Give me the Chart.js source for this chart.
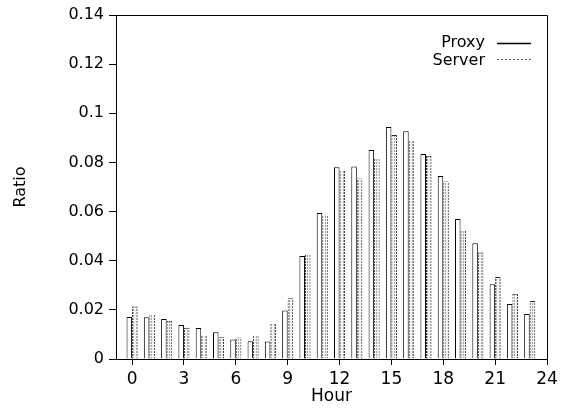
<!DOCTYPE html>
<html><head><meta charset="utf-8">
<script src="https://cdn.jsdelivr.net/npm/chart.js@4/dist/chart.umd.min.js"></script>
<style>html,body{margin:0;padding:0;background:#fff}#wrap{width:566px;height:409px}</style>
</head><body><div id="wrap"><canvas id="c" width="566" height="409"></canvas></div>
<script>
const hours = [0,1,2,3,4,5,6,7,8,9,10,11,12,13,14,15,16,17,18,19,20,21,22,23];
const proxyRatio = [0.0171,0.0170,0.0163,0.0138,0.0126,0.0109,0.0079,0.0072,0.0071,0.0197,0.0419,0.0594,0.0780,0.0783,0.0851,0.0944,0.0927,0.0834,0.0745,0.0570,0.0471,0.0304,0.0224,0.0183];
const serverRatio = [0.0214,0.0183,0.0156,0.0127,0.0098,0.0089,0.0088,0.0098,0.0145,0.0247,0.0426,0.0587,0.0769,0.0735,0.0817,0.0912,0.0891,0.0827,0.0722,0.0524,0.0433,0.0334,0.0266,0.0236];
const xTickLabels = [0,3,6,9,12,15,18,21,24];
const yTickLabels = [0,0.02,0.04,0.06,0.08,0.1,0.12,0.14];
const seriesNames = ['Proxy','Server'];
const xTitle = 'Hour';
const yTitle = 'Ratio';

const FONT = '"DejaVu Sans", "Liberation Sans", Arial, sans-serif';

function makePattern(w, h, draw) {
  const cv = document.createElement('canvas');
  cv.width = w; cv.height = h;
  const g = cv.getContext('2d');
  draw(g);
  return g.createPattern(cv, 'repeat');
}
const serverBorder = makePattern(1, 3, g => {
  g.fillStyle = '#fff'; g.fillRect(0,0,1,3);
  g.fillStyle = '#2a2a2a'; g.fillRect(0,0,1,2);
});
const serverFill = makePattern(3, 3, g => {
  g.fillStyle = '#f2f2f2'; g.fillRect(0,0,3,3);
  g.fillStyle = '#a8a8a8'; g.fillRect(1,0,1,2);
});

const boxPlugin = {
  id: 'box',
  afterDraw(chart) {
    const {ctx, chartArea: a} = chart;
    ctx.save();
    ctx.strokeStyle = '#000';
    ctx.lineWidth = 1;
    ctx.beginPath();
    ctx.moveTo(a.left, a.top + 0.5);
    ctx.lineTo(a.right + 0.5, a.top + 0.5);
    ctx.lineTo(a.right + 0.5, a.bottom);
    ctx.stroke();
    // legend
    ctx.font = '16px ' + FONT;
    ctx.fillStyle = '#000';
    ctx.textAlign = 'right';
    ctx.textBaseline = 'middle';
    const textRight = a.right - 62;
    const lineL = a.right - 50, lineR = a.right - 16;
    chart.data.datasets.forEach((ds, i) => {
      const y = a.top + 28 + i * 18;
      ctx.fillText(ds.label, textRight, y);
      ctx.beginPath();
      if (i === 0) { ctx.setLineDash([]); ctx.strokeStyle = '#000'; ctx.lineWidth = 1.5; }
      else { ctx.setLineDash([2, 2]); ctx.strokeStyle = '#555'; ctx.lineWidth = 1; }
      const ly = Math.round(y) + 0.5 - (i ? 2 : 0);
      ctx.moveTo(lineL, ly);
      ctx.lineTo(lineR, ly);
      ctx.stroke();
    });
    ctx.restore();
  }
};

new Chart(document.getElementById('c'), {
  type: 'bar',
  data: {
    datasets: [
      {
        label: seriesNames[0],
        data: hours.map((h, i) => ({x: h, y: proxyRatio[i]})),
        backgroundColor: '#fff',
        borderColor: '#000',
        borderWidth: 1
      },
      {
        label: seriesNames[1],
        data: hours.map((h, i) => ({x: h, y: serverRatio[i]})),
        backgroundColor: serverFill,
        borderColor: serverBorder,
        borderWidth: 1
      }
    ]
  },
  options: {
    responsive: false,
    devicePixelRatio: 1,
    animation: false,
    categoryPercentage: 0.64,
    barPercentage: 1,
    layout: {padding: {left: 0, top: 15, right: 19, bottom: 0}},
    plugins: {legend: {display: false}, tooltip: {enabled: false}},
    scales: {
      x: {
        type: 'linear',
        offset: false,
        min: -0.93,
        max: 24,
        afterBuildTicks: s => { s.ticks = xTickLabels.map(v => ({value: v})); },
        afterFit: s => { s.height = 50; },
        border: {display: true, color: '#000', width: 1},
        grid: {display: true, offset: false, drawOnChartArea: false, drawTicks: true, tickLength: 6, tickColor: '#000'},
        ticks: {color: '#000', font: {family: FONT, size: 17}, padding: 4, maxRotation: 0, autoSkip: false},
        title: {display: true, text: xTitle, color: '#000', font: {family: FONT, size: 17}, padding: {top: 0, bottom: 2}}
      },
      y: {
        min: 0,
        max: 0.14,
        afterBuildTicks: s => { s.ticks = yTickLabels.map(v => ({value: v})); },
        afterFit: s => { s.width = 116; },
        border: {display: true, color: '#000', width: 1},
        grid: {display: true, drawOnChartArea: false, drawTicks: true, tickLength: 7, tickColor: '#000'},
        ticks: {color: '#000', font: {family: FONT, size: 16}, padding: 5, callback: v => String(+Number(v).toFixed(2))},
        title: {display: true, text: yTitle, color: '#000', font: {family: FONT, size: 16}, padding: {top: 11, bottom: 0}}
      }
    }
  },
  plugins: [boxPlugin]
});
</script>
</body></html>
